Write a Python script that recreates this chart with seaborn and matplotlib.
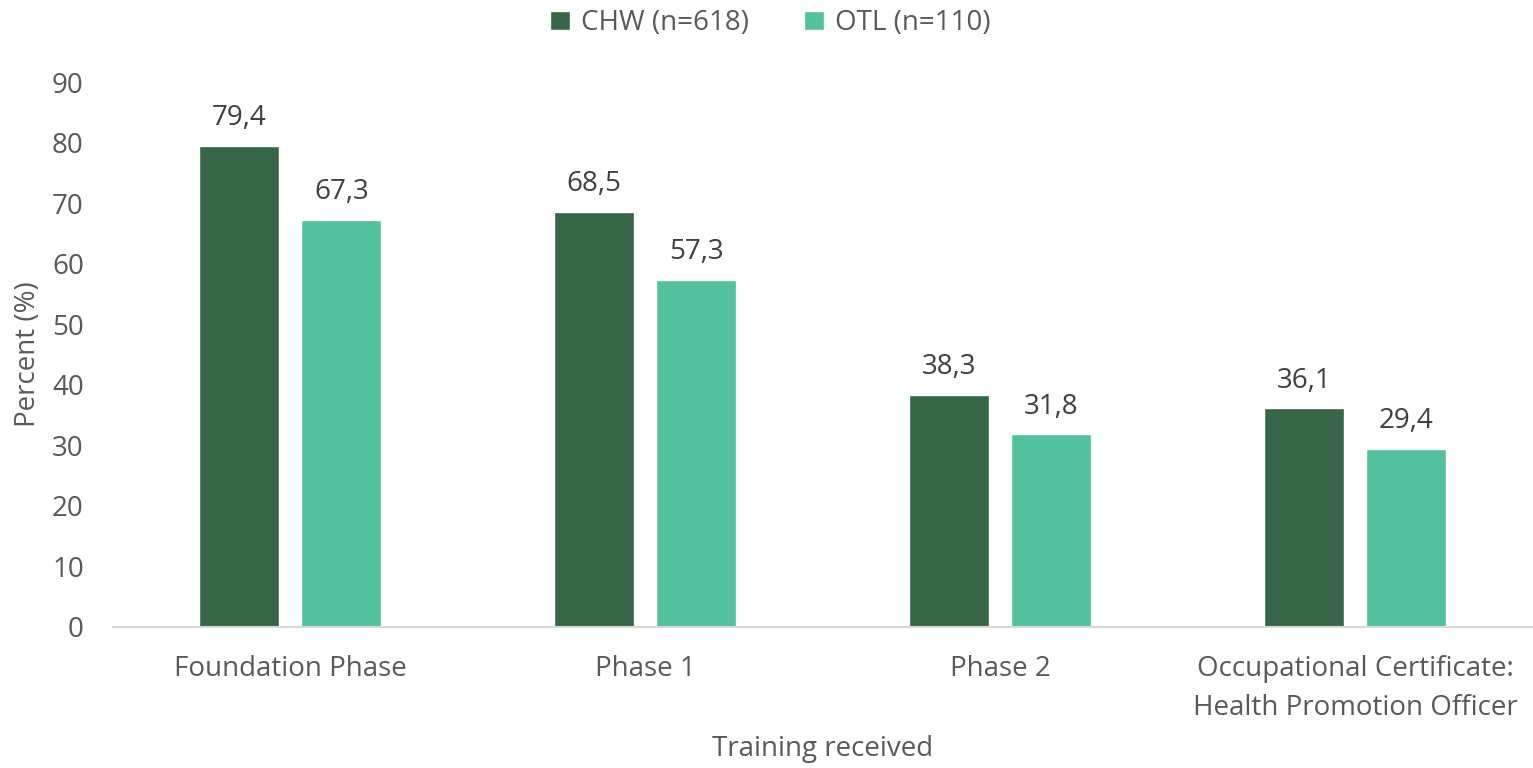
import matplotlib
matplotlib.use("Agg")
import matplotlib.pyplot as plt
import pandas as pd
import seaborn as sns

categories = ["Foundation Phase", "Phase 1", "Phase 2",
              "Occupational Certificate:\nHealth Promotion Officer"]
groups = ["CHW (n=618)", "OTL (n=110)"]
chw_values = [79.4, 68.5, 38.3, 36.1]
otl_values = [67.3, 57.3, 31.8, 29.4]

df = pd.DataFrame({
    "training": categories * 2,
    "group": [groups[0]] * 4 + [groups[1]] * 4,
    "percent": chw_values + otl_values,
})

sns.set_style("white")
plt.rcParams["font.family"] = ["Open Sans", "DejaVu Sans"]

fig = plt.figure(figsize=(15.33, 7.68), dpi=100)
ax = fig.add_axes([0.0737, 0.1836, 0.926, 0.7094])

palette = {groups[0]: "#376548", groups[1]: "#54C19E"}
sns.barplot(data=df, x="training", y="percent", hue="group", palette=palette,
            width=0.575, gap=0.216, ax=ax, saturation=1)

for container in ax.containers:
    labels = [f"{b.get_height():.1f}".replace(".", ",") for b in container]
    ax.bar_label(container, labels=labels, padding=10, fontsize=20, color="#404040")

ax.set_ylim(0, 90)
ax.set_xlim(-0.5, 3.5)
ax.set_yticks(range(0, 91, 10))
ax.tick_params(axis="both", labelsize=20, colors="#595959", length=0)
ax.tick_params(axis="x", pad=20)
ax.tick_params(axis="y", pad=21)
for lbl in ax.get_xticklabels():
    lbl.set_linespacing(1.55)
ax.set_ylabel("Percent (%)", fontsize=20, color="#595959", labelpad=7)
ax.set_xlabel("Training received", fontsize=20, color="#595959", labelpad=9)
for s in ["top", "right", "left"]:
    ax.spines[s].set_visible(False)
ax.spines["bottom"].set_color("#D9D9D9")
ax.spines["bottom"].set_linewidth(1.5)

leg = ax.legend(loc="upper center", bbox_to_anchor=(0.5 - 0.0737 / 2 + 0.0, 1.18),
                ncol=2, frameon=False, fontsize=20, handlelength=0.7, handleheight=0.7,
                columnspacing=2.0, handletextpad=0.4)
for t in leg.get_texts():
    t.set_color("#595959")

fig.savefig("out.png", dpi=100)
